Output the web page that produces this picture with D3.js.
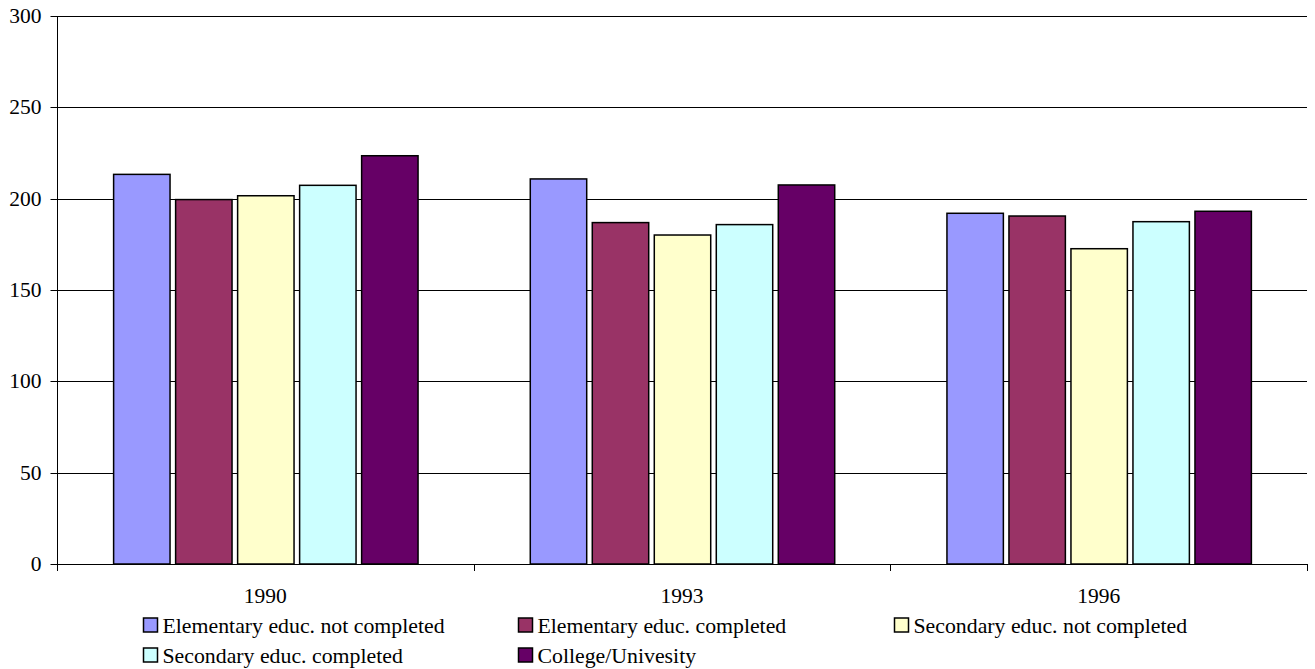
<!DOCTYPE html>
<html>
<head>
<meta charset="utf-8">
<script src="https://cdn.jsdelivr.net/npm/d3@7"></script>
<style>
  html, body { margin: 0; padding: 0; background: #fff; }
  svg text { font-family: "Times New Roman", "Liberation Serif", Tinos, "DejaVu Serif", serif !important; }
</style>
</head>
<body>
<svg id="chart" width="1315" height="669"></svg>
<script>
const categories = ["1990", "1993", "1996"];
const seriesNames = [
  "Elementary educ. not completed",
  "Elementary educ. completed",
  "Secondary educ. not completed",
  "Secondary educ. completed",
  "College/Univesity"
];
const elemNotCompleted = [213.3, 210.8, 192.0];
const elemCompleted = [199.5, 186.9, 190.5];
const secNotCompleted = [201.6, 180.1, 172.6];
const secCompleted = [207.3, 185.8, 187.4];
const college = [223.5, 207.5, 193.1];
const yTicks = [0, 50, 100, 150, 200, 250, 300];
const colors = ["#9999FF", "#993366", "#FFFFCC", "#CCFFFF", "#660066"];

const seriesValues = [elemNotCompleted, elemCompleted, secNotCompleted, secCompleted, college];

const svg = d3.select("#chart");
const pLeft = 57, pRight = 1307, pTop = 16, pBottom = 564;
const axisFont = 21.5, legendFont = 21.8;
const serif = "'Times New Roman', 'Liberation Serif', serif";

const x0 = d3.scaleBand().domain(categories).range([pLeft, pRight]).padding(0);
const x1 = d3.scaleBand().domain(seriesNames).range([0, x0.bandwidth()])
  .paddingInner(0.09).paddingOuter(0.905);
const y = d3.scaleLinear().domain([0, 300]).range([pBottom, pTop]);

// gridlines
svg.append("g").selectAll("line").data(yTicks.filter(d => d > 0)).join("line")
  .attr("x1", pLeft).attr("x2", pRight)
  .attr("y1", d => Math.round(y(d)) + 0.5).attr("y2", d => Math.round(y(d)) + 0.5)
  .attr("stroke", "#000").attr("stroke-width", 1);

// y axis
const yAxis = d3.axisLeft(y).tickValues(yTicks).tickSize(7).tickPadding(9).tickFormat(d3.format("d"));
const gy = svg.append("g").attr("transform", `translate(${pLeft + 0.5},0)`).call(yAxis)
  .attr("font-family", serif).attr("font-size", axisFont);
gy.select(".domain").attr("d", `M0,${pTop}V${pBottom + 7}`).attr("stroke", "#000");
gy.selectAll(".tick line").attr("stroke", "#000");
gy.selectAll(".tick text").attr("fill", "#000");
gy.selectAll(".tick").attr("transform", d => `translate(0,${Math.round(y(d)) + 0.5})`);

// bars
const groups = svg.append("g").selectAll("g").data(categories).join("g")
  .attr("transform", d => `translate(${x0(d)},0)`);
groups.selectAll("rect").data((c, ci) => seriesNames.map((s, si) => ({ s, si, v: seriesValues[si][ci] })))
  .join("rect")
  .attr("x", d => x1(d.s) + 0.5)
  .attr("y", d => y(d.v))
  .attr("width", x1.bandwidth())
  .attr("height", d => pBottom - y(d.v))
  .attr("fill", d => colors[d.si])
  .attr("stroke", "#000").attr("stroke-width", 1.5);

// x axis
const xAxisLine = svg.append("g").attr("font-family", serif).attr("font-size", axisFont);
xAxisLine.append("line").attr("x1", pLeft).attr("x2", pRight)
  .attr("y1", pBottom + 0.5).attr("y2", pBottom + 0.5).attr("stroke", "#000");
const xTickPos = categories.map(c => x0(c)).concat([x0(categories[categories.length - 1]) + x0.bandwidth()]);
xAxisLine.selectAll("line.t").data(xTickPos).join("line").attr("class", "t")
  .attr("x1", d => Math.round(d) + 0.5).attr("x2", d => Math.round(d) + 0.5)
  .attr("y1", pBottom).attr("y2", pBottom + 7).attr("stroke", "#000");
xAxisLine.selectAll("text").data(categories).join("text")
  .attr("x", d => x0(d) + x0.bandwidth() / 2)
  .attr("y", 603)
  .attr("text-anchor", "middle")
  .text(d => d);

// legend
const legendPos = [[143, 625], [518, 625], [894, 625], [143, 655], [518, 655]];
const lg = svg.append("g").attr("font-family", serif).attr("font-size", legendFont)
  .selectAll("g").data(seriesNames).join("g")
  .attr("transform", (d, i) => `translate(${legendPos[i][0]},${legendPos[i][1]})`);
lg.append("rect").attr("x", 0.5).attr("y", -7).attr("width", 14).attr("height", 14)
  .attr("fill", (d, i) => colors[i]).attr("stroke", "#000").attr("stroke-width", 1.5);
lg.append("text").attr("x", 19.5).attr("y", 7.5).text(d => d);
</script>
</body>
</html>
